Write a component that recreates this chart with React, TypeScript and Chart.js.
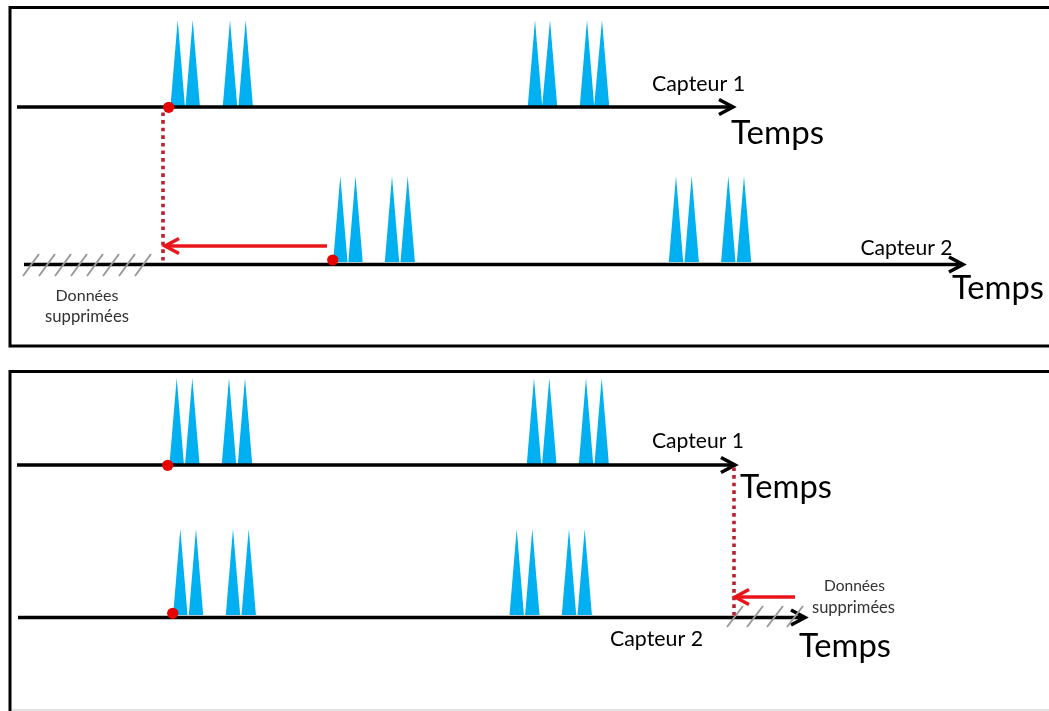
import React, { useEffect, useRef } from "react";
import { Chart, registerables } from "chart.js";

Chart.register(...registerables);

const WIDTH = 1049;
const HEIGHT = 711;

// ---- Panel frames ----
const panelTopY = [7.5, 371.5];
const panelBottomY = [346, 712];
const panelLeftX = 10;
const panelRightX = 1060;

// ---- Timelines: P1 capteur 1, P1 capteur 2, P2 capteur 1, P2 capteur 2 ----
const timelineStart = [17, 24, 17, 18];
const timelineTip = [733, 963, 735, 805];
const timelineY = [107, 264.5, 465, 617.5];

// ---- Spikes (apex x positions) per timeline ----
const spikesP1C1 = [177.7, 192.7, 230, 245.7, 535, 550, 587, 602];
const spikesP1C2 = [340.3, 355.5, 392, 407.7, 676, 691.7, 728.3, 744];
const spikesP2C1 = [176.7, 192.3, 229, 245, 534, 549.3, 586, 601.7];
const spikesP2C2 = [180.3, 196, 233, 248.7, 516.7, 532.3, 569, 584.7];
const spikeApexY = [20, 176, 378, 529];
const spikeBaseY = [106, 262, 464, 615];
const spikeHalfWidth = 7.2;

// ---- Red markers ----
const dotX = [168.7, 332.7, 167.7, 172.7];
const dotY = [107.3, 260, 465.3, 613.3];

// ---- Dotted red verticals ----
const dottedX = [163, 734];
const dottedTop = [112.5, 467.5];
const dottedBottom = [262, 616];

// ---- Red arrows (pointing left) ----
const redArrowFrom = [327, 795];
const redArrowTip = [165, 735];
const redArrowY = [246, 597];

// ---- Hatched "deleted data" slashes (bottom x of each slash) ----
const hatchP1 = [23, 39, 55, 71, 87, 103, 119, 135];
const hatchP2 = [727, 747, 767, 787];
const hatchLowY = [276, 627];
const hatchHighY = [254, 606];
const hatchDx = 16;

// ---- Text labels ----
const labelTexts = [
  "Capteur 1", "Temps", "Capteur 2", "Temps", "Données", "supprimées",
  "Capteur 1", "Temps", "Capteur 2", "Temps", "Données", "supprimées",
];
const labelX = [652, 731, 860.5, 952, 87, 87, 652, 740, 610, 799, 854.5, 853.5];
const labelY = [90.5, 143.5, 255, 298.5, 300.5, 321.5, 448, 498, 646, 657, 590.5, 612.5];
const labelWidth = [93, 93, 92, 92, 63, 84, 92, 92, 93, 92, 61, 83];
const labelAlign = ["left", "left", "left", "left", "center", "center", "left", "left", "left", "left", "center", "center"];
const labelColor = ["#000", "#000", "#000", "#000", "#333", "#333", "#000", "#000", "#000", "#000", "#333", "#333"];

const FONT = "Lato, 'Open Sans', sans-serif";

type P = { x: number; y: number | null };

function lineDs(data: P[], color: string, width: number, order: number, extra: any = {}) {
  return {
    type: "line" as const,
    data,
    borderColor: color,
    borderWidth: width,
    pointRadius: 0,
    pointHoverRadius: 0,
    fill: false,
    tension: 0,
    spanGaps: false,
    borderCapStyle: "butt",
    borderJoinStyle: "miter",
    clip: false,
    order,
    ...extra,
  };
}

function buildDatasets() {
  const ds: any[] = [];

  // red dots (top)
  ds.push({
    type: "line",
    data: dotX.map((x, i) => ({ x, y: dotY[i] })),
    showLine: false,
    pointRadius: 5.6,
    pointHoverRadius: 5.6,
    pointBackgroundColor: "#E60000",
    pointBorderWidth: 0,
    borderColor: "rgba(0,0,0,0)",
    clip: false,
    order: 0,
  });

  // red arrows
  redArrowFrom.forEach((fx, i) => {
    const tip = redArrowTip[i];
    const y = redArrowY[i];
    ds.push(lineDs([{ x: fx, y }, { x: tip + 1.5, y }], "#E8161B", 3.5, 1));
    ds.push(
      lineDs(
        [{ x: tip + 14, y: y - 7.5 }, { x: tip, y }, { x: tip + 14, y: y + 7.5 }],
        "#E8161B",
        3.5,
        1
      )
    );
  });

  // dotted verticals
  dottedX.forEach((x, i) => {
    ds.push(
      lineDs([{ x, y: dottedTop[i] }, { x, y: dottedBottom[i] }], "#BE1E2D", 3.6, 2, {
        borderDash: [3.6, 4],
      })
    );
  });

  // hatching
  [hatchP1, hatchP2].forEach((arr, k) => {
    const data: P[] = [];
    arr.forEach((x) => {
      data.push({ x, y: hatchLowY[k] });
      data.push({ x: x + hatchDx, y: hatchHighY[k] });
      data.push({ x: x + hatchDx + 0.5, y: null });
    });
    ds.push(lineDs(data, "#9A9A9A", 2, 2));
  });

  // timelines + arrowheads
  timelineY.forEach((y, i) => {
    const tip = timelineTip[i];
    ds.push(lineDs([{ x: timelineStart[i], y }, { x: tip - 2, y }], "#000", 3.6, 3));
    ds.push(
      lineDs(
        [{ x: tip - 14, y: y - 7.5 }, { x: tip, y }, { x: tip - 14, y: y + 7.5 }],
        "#000",
        3.6,
        3
      )
    );
  });

  // panel frames
  ds.push(
    lineDs(
      [
        { x: panelRightX, y: panelTopY[0] },
        { x: panelLeftX, y: panelTopY[0] },
        { x: panelLeftX, y: panelBottomY[0] },
        { x: panelRightX, y: panelBottomY[0] },
      ],
      "#000",
      3,
      4
    )
  );
  ds.push(
    lineDs(
      [
        { x: panelRightX, y: panelTopY[1] },
        { x: panelLeftX, y: panelTopY[1] },
        { x: panelLeftX, y: panelBottomY[1] },
      ],
      "#000",
      3,
      4
    )
  );
  ds.push(lineDs([{ x: panelLeftX + 2, y: 710 }, { x: panelRightX, y: 710 }], "#DADADA", 1.5, 4));

  // spikes (bottom layer)
  [spikesP1C1, spikesP1C2, spikesP2C1, spikesP2C2].forEach((arr, i) => {
    const base = spikeBaseY[i];
    const apex = spikeApexY[i];
    const data: P[] = [];
    arr.forEach((x) => {
      data.push({ x: x - spikeHalfWidth, y: base });
      data.push({ x, y: apex });
      data.push({ x: x + spikeHalfWidth, y: base });
    });
    ds.push({
      type: "line",
      data,
      borderColor: "rgba(0,0,0,0)",
      borderWidth: 0,
      backgroundColor: "#00B0F0",
      pointRadius: 0,
      fill: { value: base },
      tension: 0,
      order: 5,
    });
  });

  return ds;
}

const textPlugin = {
  id: "diagramLabels",
  afterDatasetsDraw(chart: any) {
    const { ctx } = chart;
    const xs = chart.scales.x;
    const ys = chart.scales.y;
    labelTexts.forEach((t, i) => {
      ctx.save();
      const base = 20;
      ctx.font = `${base}px ${FONT}`;
      const m = ctx.measureText(t).width || 1;
      const size = (base * labelWidth[i]) / m;
      ctx.font = `${size.toFixed(2)}px ${FONT}`;
      ctx.fillStyle = labelColor[i];
      ctx.textAlign = labelAlign[i];
      ctx.textBaseline = "alphabetic";
      ctx.fillText(t, xs.getPixelForValue(labelX[i]), ys.getPixelForValue(labelY[i]));
      ctx.restore();
    });
  },
};

export default function App() {
  const canvasRef = useRef<HTMLCanvasElement | null>(null);

  useEffect(() => {
    const canvas = canvasRef.current;
    if (!canvas) return;
    const chart = new Chart(canvas, {
      type: "line",
      data: { datasets: buildDatasets() },
      options: {
        animation: false,
        responsive: false,
        devicePixelRatio: 1,
        events: [],
        layout: { padding: 0, autoPadding: false },
        plugins: {
          legend: { display: false },
          tooltip: { enabled: false },
          title: { display: false },
        },
        scales: {
          x: { type: "linear", min: 0, max: WIDTH, display: false },
          y: { type: "linear", min: 0, max: HEIGHT, reverse: true, display: false },
        },
      },
      plugins: [textPlugin],
    } as any);
    return () => chart.destroy();
  }, []);

  return (
    <div style={{ position: "absolute", left: 0, top: 0, width: WIDTH, height: HEIGHT, background: "#fff" }}>
      <canvas ref={canvasRef} width={WIDTH} height={HEIGHT} style={{ display: "block" }} />
    </div>
  );
}
